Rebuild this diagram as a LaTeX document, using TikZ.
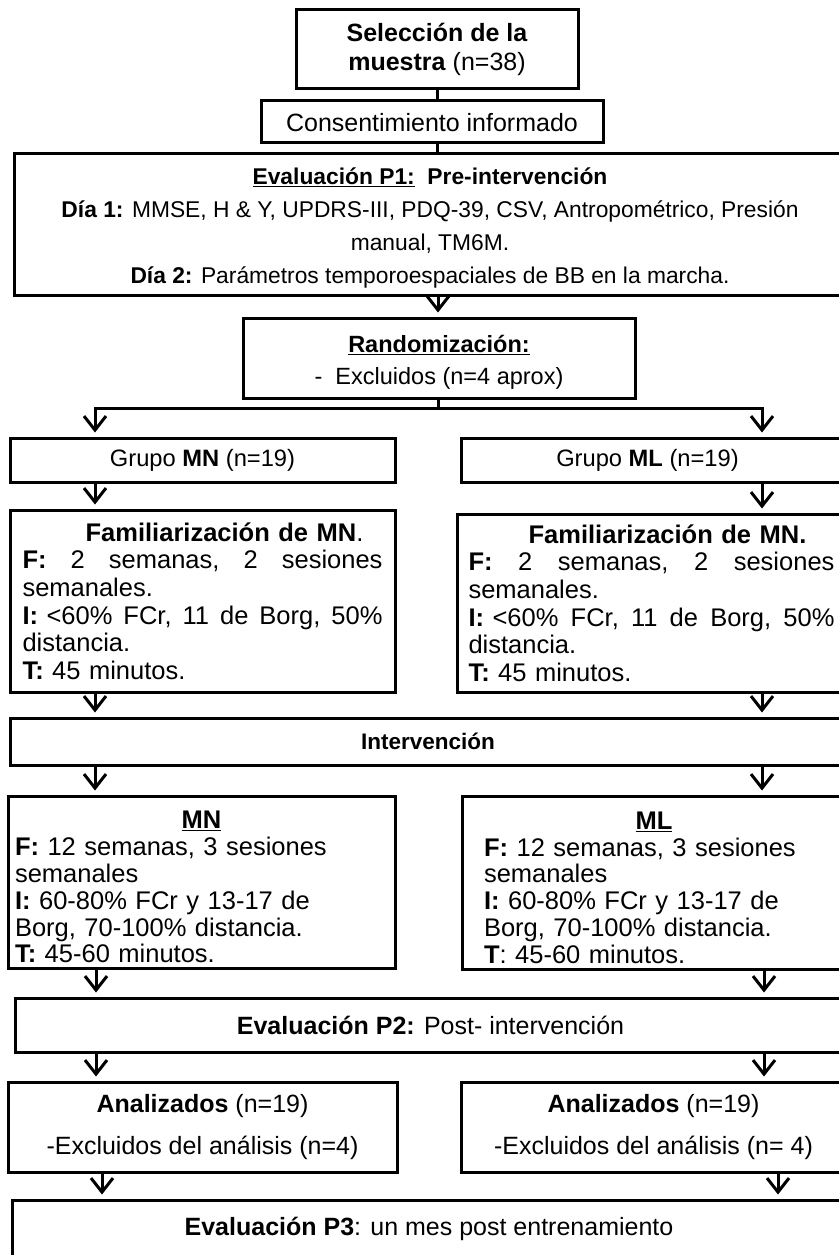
\documentclass[tikz,border=0pt]{standalone}
\usepackage{fontspec}
\setmainfont{Liberation Sans}
\usetikzlibrary{arrows.meta}
\newcommand{\jline}[2]{\leavevmode\hbox to #1{#2}}
\begin{document}
\begin{tikzpicture}[x=1pt,y=-1pt,
  box/.style={draw, line width=3pt, inner sep=0pt, align=center, font=\fontsize{25}{30}\selectfont},
  conn/.style={line width=3pt},
  arr/.style={line width=3pt, -{Straight Barb[length=14pt,width=22pt]}, shorten >=4pt},
]
\useasboundingbox (0,0) rectangle (838,1255);
\fill[white] (0,0) rectangle (838,1255);

\coordinate (c438) at (438,0);
\coordinate (c95) at (95,0);
\coordinate (c762) at (762,0);
\coordinate (c96) at (96,0);
\coordinate (c764) at (764,0);
\coordinate (c102) at (102,0);
\coordinate (c778) at (778,0);
\coordinate (bl) at (95,408);
\coordinate (brr) at (762,408);

\node[box, minimum width=282, minimum height=78, font=\fontsize{25}{29}\selectfont] (sel) at (437,49)
  {\textbf{Selección de la}\\\textbf{muestra} (n=38)};
\node[box, minimum width=342, minimum height=42] (cons) at (432,121) {\rule{0pt}{22pt}Consentimiento informado};
\node[box, minimum width=832, minimum height=142, font=\fontsize{22.8}{33}\selectfont] (p1) at (430,224)
  {\rule{0pt}{24pt}\underline{\textbf{Evaluación P1:}}\ \ \textbf{Pre-intervención}\\
   \textbf{Día 1:} MMSE, H \& Y, UPDRS-III, PDQ-39, CSV, Antropométrico, Presión\\
   manual, TM6M.\\
   \textbf{Día 2:} Parámetros temporoespaciales de BB en la marcha.};
\node[box, minimum width=392, minimum height=80, font=\fontsize{23.5}{32}\selectfont] (rand) at (439,358)
  {\rule{0pt}{26pt}\underline{\textbf{Randomización:}}\\ -\ \ Excluidos (n=4 aprox)};

\node[box, minimum width=385, minimum height=44, font=\fontsize{23.7}{30}\selectfont] (gMN) at (202.5,460) {Grupo \textbf{MN} (n=19)};
\node[box, minimum width=385, minimum height=44, font=\fontsize{23.7}{30}\selectfont] (gML) at (653.5,460) {Grupo \textbf{ML} (n=19)\hspace*{12pt}};

\node[box, minimum width=385, minimum height=182, text width=360, align=left, font=\fontsize{25.5}{27.6}\selectfont] (famL) at (202.5,601)
  {\makebox[360pt]{\hspace*{44pt}\textbf{Familiarización de MN}.}\\
   \jline{360pt}{\textbf{F:}\hfill 2\hfill semanas,\hfill 2\hfill sesiones}\\
   semanales.\\
   \jline{360pt}{\textbf{I:} <60\%\hfill FCr,\hfill 11\hfill de\hfill Borg,\hfill 50\%}\\
   distancia.\\
   \textbf{T:} 45 minutos.};
\node[box, minimum width=389, minimum height=178, text width=366, align=left, font=\fontsize{25.5}{27.6}\selectfont] (famR) at (651.5,603)
  {\makebox[366pt]{\hspace*{32pt}\textbf{Familiarización de MN.}}\\
   \jline{366pt}{\textbf{F:}\hfill 2\hfill semanas,\hfill 2\hfill sesiones}\\
   semanales.\\
   \jline{366pt}{\textbf{I:} <60\%\hfill FCr,\hfill 11\hfill de\hfill Borg,\hfill 50\%}\\
   distancia.\\
   \textbf{T:} 45 minutos.};

\node[box, minimum width=836, minimum height=47, font=\fontsize{22.5}{30}\selectfont] (interv) at (428,741.5) {\textbf{Intervención}};

\node[box, minimum width=387, minimum height=172, text width=373, align=left, font=\fontsize{25.5}{26.8}\selectfont] (mn) at (201.5,882)
  {\makebox[373pt]{\rule{0pt}{28pt}\underline{\textbf{MN}}}\\
   \textbf{F:} 12 semanas, 3 sesiones\\
   semanales\\
   \textbf{I:} 60-80\% FCr y 13-17 de\\
   Borg, 70-100\% distancia.\\
   \textbf{T:} 45-60 minutos.};
\node[box, minimum width=384, minimum height=173, text width=340, align=left, font=\fontsize{25.5}{26.8}\selectfont] (ml) at (654,882.5)
  {\makebox[340pt]{\rule{0pt}{28pt}\underline{\textbf{ML}}}\\
   \textbf{F:} 12 semanas, 3 sesiones\\
   semanales\\
   \textbf{I:} 60-80\% FCr y 13-17 de\\
   Borg, 70-100\% distancia.\\
   \textbf{T}: 45-60 minutos.};

\node[box, minimum width=831, minimum height=54] (p2) at (430.5,1025) {\textbf{Evaluación P2:} Post- intervención};

\node[box, minimum width=389, minimum height=90, font=\fontsize{25}{42}\selectfont] (anL) at (202.5,1127)
  {\textbf{Analizados} (n=19)\\ -Excluidos del análisis (n=4)};
\node[box, minimum width=385, minimum height=90, font=\fontsize{25}{42}\selectfont] (anR) at (653.5,1127)
  {\textbf{Analizados} (n=19)\\ -Excluidos del análisis (n= 4)};

\node[box, minimum width=834, minimum height=58] (p3) at (429,1229) {\textbf{Evaluación P3}: un mes post entrenamiento};

% connectors
\draw[conn] (sel.south) -- (cons.north -| sel.south);
\draw[conn] (cons.south -| sel.south) -- (p1.north -| sel.south);
\draw[arr] (p1.south -| c438) -- (rand.north -| c438);
\draw[arr] (rand.south -| c438) |- (bl) -- (gMN.north -| bl);
\draw[arr] (rand.south -| c438) |- (brr) -- (gML.north -| brr);
\draw[arr] (gMN.south -| c95) -- (famL.north -| c95);
\draw[arr] (gML.south -| c762) -- (famR.north -| c762);
\draw[arr] (famL.south -| c95) -- (interv.north -| c95);
\draw[arr] (famR.south -| c762) -- (interv.north -| c762);
\draw[arr] (interv.south -| c95) -- (mn.north -| c95);
\draw[arr] (interv.south -| c762) -- (ml.north -| c762);
\draw[arr] (mn.south -| c96) -- (p2.north -| c96);
\draw[arr] (ml.south -| c764) -- (p2.north -| c764);
\draw[arr] (p2.south -| c96) -- (anL.north -| c96);
\draw[arr] (p2.south -| c764) -- (anR.north -| c764);
\draw[arr] (anL.south -| c102) -- (p3.north -| c102);
\draw[arr] (anR.south -| c778) -- (p3.north -| c778);
\end{tikzpicture}
\end{document}
